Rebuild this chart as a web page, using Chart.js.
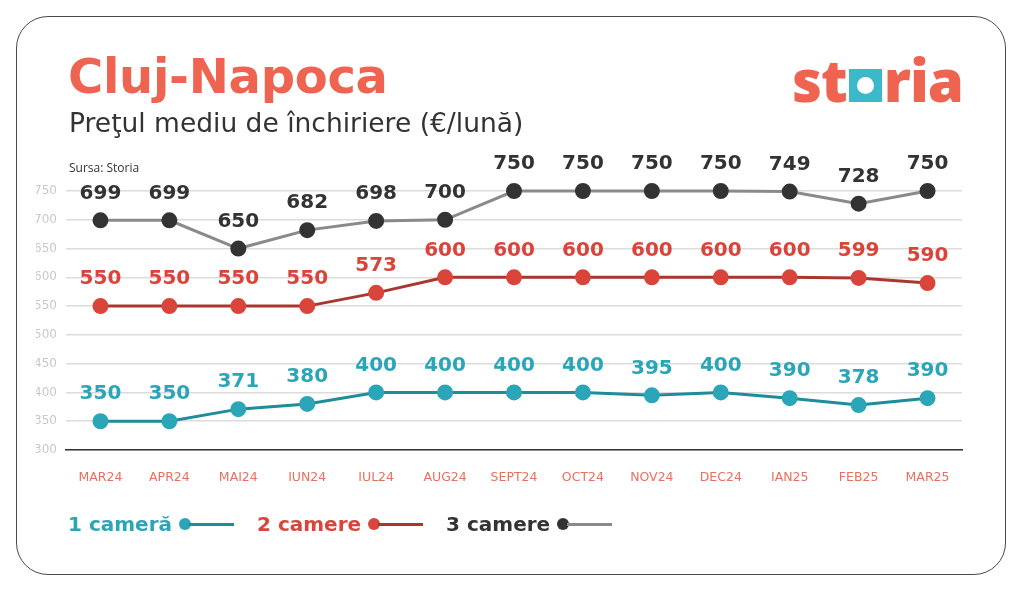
<!DOCTYPE html>
<html lang="ro">
<head>
<meta charset="UTF-8">
<title>Cluj-Napoca - Preţul mediu de închiriere</title>
<script src="https://cdn.jsdelivr.net/npm/chart.js"></script>
<style>
  html, body { margin: 0; padding: 0; background: #fff; }
  body { width: 1024px; height: 592px; position: relative; overflow: hidden; font-family: "DejaVu Sans", sans-serif; }
  .card { position: absolute; left: 16px; top: 16px; width: 988px; height: 557px; border: 1.5px solid #4a4a4a; border-radius: 32px; }
  #chart { position: absolute; left: 0; top: 0; }
  .title { position: absolute; left: 68px; top: 48px; font-size: 48px; font-weight: bold; color: #ee6450; letter-spacing: -0.3px; }
  .subtitle { position: absolute; left: 69px; top: 107px; font-size: 26.5px; color: #333; }
  .source { position: absolute; left: 69px; top: 159px; font-size: 12px; color: #333; font-family: "Open Sans", sans-serif; }
  .logo { position: absolute; left: 792px; top: 40px; font-size: 58px; font-weight: 800; color: #ee6450; letter-spacing: -1px; display: flex; align-items: baseline; font-family: "Open Sans", sans-serif; }
  .logo .sq { display: inline-block; width: 33px; height: 33px; background: #3bb8c9; position: relative; margin: 0 2px; }
  .logo .sq::after { content: ""; position: absolute; left: 8px; top: 8px; width: 17px; height: 17px; border-radius: 50%; background: #fff; }
  .legend { position: absolute; left: 68px; top: 512px; display: flex; align-items: center; font-size: 20px; font-weight: bold; }
  .legend .item { display: flex; align-items: center; margin-right: 23px; }
  .legend .dot { width: 12px; height: 12px; border-radius: 50%; margin-left: 7px; margin-right: -2px; }
  .legend .ln { width: 45px; height: 3px; }
</style>
</head>
<body>
<div class="card"></div>
<canvas id="chart" width="1024" height="592"></canvas>
<div class="title">Cluj-Napoca</div>
<div class="subtitle">Preţul mediu de închiriere (€/lună)</div>
<div class="source">Sursa: Storia</div>
<div class="logo">st<span class="sq"></span>ria</div>
<div class="legend" id="legend"></div>

<script>
  // months on the x axis
  const months = ['MAR24', 'APR24', 'MAI24', 'IUN24', 'IUL24', 'AUG24', 'SEPT24', 'OCT24', 'NOV24', 'DEC24', 'IAN25', 'FEB25', 'MAR25'];

  // average rent (€/month)
  const oneRoom = [350, 350, 371, 380, 400, 400, 400, 400, 395, 400, 390, 378, 390];
  const twoRooms = [550, 550, 550, 550, 573, 600, 600, 600, 600, 600, 600, 599, 590];
  const threeRooms = [699, 699, 650, 682, 698, 700, 750, 750, 750, 750, 749, 728, 750];

  const seriesNames = ['1 cameră', '2 camere', '3 camere'];
  const pointColors = ['#2ba6b8', '#d9453a', '#333333'];
  const lineColors = ['#1f8c9a', '#a8382f', '#8a8a8a'];

  // value labels above each point
  const valueLabels = {
    id: 'valueLabels',
    afterDatasetsDraw(chart) {
      const ctx = chart.ctx;
      ctx.save();
      ctx.font = 'bold 20px "DejaVu Sans"';
      ctx.textAlign = 'center';
      ctx.textBaseline = 'middle';
      chart.data.datasets.forEach((ds, i) => {
        const meta = chart.getDatasetMeta(i);
        ctx.fillStyle = pointColors[i];
        meta.data.forEach((pt, j) => {
          ctx.fillText(ds.data[j], pt.x, pt.y - 27);
        });
      });
      ctx.restore();
    }
  };

  const allSeries = [oneRoom, twoRooms, threeRooms];

  new Chart(document.getElementById('chart'), {
    type: 'line',
    data: {
      labels: months,
      datasets: allSeries.map((values, i) => ({
        label: seriesNames[i],
        data: values,
        borderColor: lineColors[i],
        backgroundColor: pointColors[i],
        pointBackgroundColor: pointColors[i],
        pointBorderColor: pointColors[i],
        borderWidth: 3,
        pointRadius: 6.5,
        tension: 0,
        fill: false,
        clip: false
      }))
    },
    options: {
      responsive: false,
      animation: false,
      layout: { padding: { left: 36, right: 62, top: 191, bottom: 102 } },
      plugins: {
        legend: { display: false },
        tooltip: { enabled: false }
      },
      scales: {
        x: {
          offset: true,
          grid: { display: false },
          border: { display: true, color: '#333', width: 1.5 },
          ticks: {
            color: '#e8705e',
            font: { family: 'DejaVu Sans', size: 12.5 },
            padding: 12,
            maxRotation: 0,
            autoSkip: false
          },
          afterFit(scale) { scale.height = 40; }
        },
        y: {
          min: 300,
          max: 750,
          ticks: {
            stepSize: 50,
            color: '#c8c8c8',
            font: { family: 'DejaVu Sans', size: 12 },
            padding: 9
          },
          grid: { color: '#dcdcdc', lineWidth: 1.5, drawTicks: false },
          border: { display: false },
          afterFit(scale) { scale.width = 30; }
        }
      }
    },
    plugins: [valueLabels]
  });

  // legend below the chart
  const legend = document.getElementById('legend');
  seriesNames.forEach((name, i) => {
    const item = document.createElement('div');
    item.className = 'item';
    item.innerHTML = '<span style="color:' + pointColors[i] + '">' + name + '</span>' +
      '<span class="dot" style="background:' + pointColors[i] + '"></span>' +
      '<span class="ln" style="background:' + lineColors[i] + '"></span>';
    legend.appendChild(item);
  });
</script>
</body>
</html>
